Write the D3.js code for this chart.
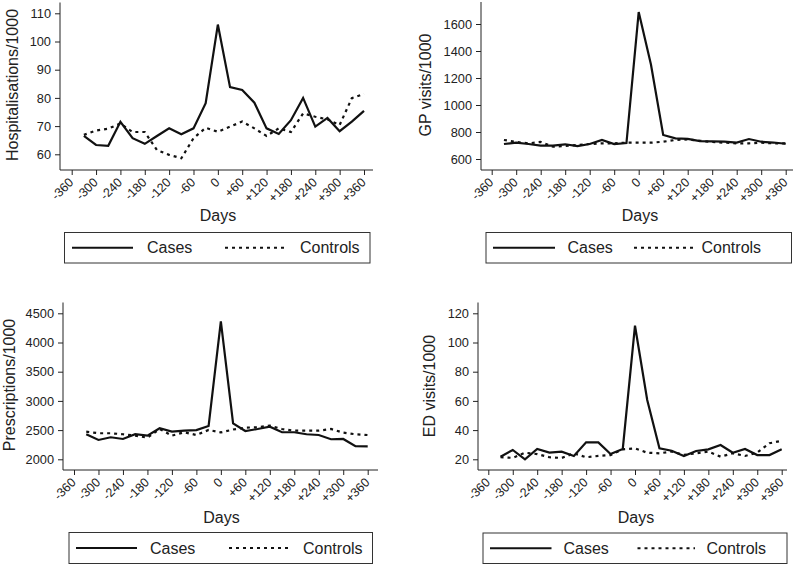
<!DOCTYPE html>
<html><head><meta charset="utf-8">
<script src="https://cdn.jsdelivr.net/npm/d3@7"></script>
<style>
html,body{margin:0;padding:0;background:#fff;}
svg{display:block;font-family:"Liberation Sans",Arial,sans-serif;}
</style></head>
<body><svg id="c" width="798" height="566"></svg>
<script>
// ---- data ----
const days = [-330,-300,-270,-240,-210,-180,-150,-120,-90,-60,-30,0,30,60,90,120,150,180,210,240,270,300,330,360];
const xTickValues = [-360,-300,-240,-180,-120,-60,0,60,120,180,240,300,360];
const xTickLabels = ["-360","-300","-240","-180","-120","-60","0","+60","+120","+180","+240","+300","+360"];
const seriesNames = ["Cases","Controls"];

const hospCases    = [66.5,63.3,63.0,71.5,65.7,63.7,66.5,69.2,67.1,69.2,78.1,106,83.8,82.8,78.3,69.2,67.2,72.1,80.0,69.8,72.9,68.2,71.6,75.4];
const hospControls = [66.9,68.4,69.1,70.9,67.9,67.9,61.5,59.8,58.6,65.7,69.4,68.0,69.8,71.6,69.2,66.5,69.2,67.9,74.5,73.3,72.4,70.4,79.9,81.4];
const hospTicks = [60,70,80,90,100,110];

const gpCases    = [711,721,711,699,699,709,696,711,741,711,718,1688,1300,778,753,749,733,731,728,721,748,728,722,713];
const gpControls = [741,726,716,726,691,696,704,711,716,716,721,721,721,728,741,745,735,726,721,716,716,721,716,716];
const gpTicks = [600,800,1000,1200,1400,1600];

const rxCases    = [2429,2331,2377,2348,2429,2405,2531,2473,2490,2500,2571,4360,2615,2485,2519,2559,2463,2463,2429,2416,2343,2348,2223,2220];
const rxControls = [2473,2446,2446,2429,2405,2370,2519,2405,2463,2416,2502,2460,2510,2542,2548,2576,2519,2490,2490,2490,2519,2456,2429,2416];
const rxTicks = [2000,2500,3000,3500,4000,4500];

const edCases    = [21.8,26.4,20.0,27.1,24.6,25.2,22.3,31.6,31.6,23.6,27.1,111.5,60.6,27.5,25.9,22.3,25.7,26.8,29.8,24.5,27.1,22.9,22.9,26.8];
const edControls = [21.4,21.0,24.5,23.6,21.4,20.9,24.1,21.4,22.3,22.9,26.8,27.5,24.5,24.1,25.3,23.0,24.1,25.3,21.8,24.1,22.3,24.6,31.0,32.7];
const edTicks = [20,40,60,80,100,120];

// ---- layout ----
const panels = [
  {label:"Hospitalisations/1000", cases:hospCases, controls:hospControls, ticks:hospTicks,
   axX:60, axTop:2.5, axBot:170, axRight:373, t0:71.7, t1:364, v0:60, py0:154.3, v1:110, py1:13.3,
   ylabX:12.5, ylabY:85, daysX:218, daysY:215,
   leg:{x0:64.5,x1:370,y0:232.5,y1:263,l0:72,l1:133,t1x:147,d0:225,d1:287,t2x:300}},
  {label:"GP visits/1000", cases:gpCases, controls:gpControls, ticks:gpTicks,
   axX:481, axTop:2, axBot:170, axRight:793, t0:491.7, t1:785.7, v0:600, py0:159, v1:1600, py1:24,
   ylabX:425, ylabY:85, daysX:640, daysY:215,
   leg:{x0:486,x1:791.5,y0:232.5,y1:263,l0:493,l1:555,t1x:567.5,d0:634,d1:696,t2x:701.5}},
  {label:"Prescriptions/1000", cases:rxCases, controls:rxControls, ticks:rxTicks,
   axX:63, axTop:302.5, axBot:470, axRight:378, t0:74, t1:367.7, v0:2000, py0:459.3, v1:4500, py1:313.3,
   ylabX:9.5, ylabY:385, daysX:221.5, daysY:517,
   leg:{x0:69,x1:372.5,y0:532.5,y1:563.5,l0:76,l1:137,t1x:150,d0:229,d1:290,t2x:303}},
  {label:"ED visits/1000", cases:edCases, controls:edControls, ticks:edTicks,
   axX:478, axTop:302.5, axBot:470, axRight:787, t0:488.3, t1:781.7, v0:20, py0:459.3, v1:120, py1:313.3,
   ylabX:429, ylabY:386, daysX:636, daysY:517,
   leg:{x0:483,x1:787,y0:533,y1:563.5,l0:490,l1:551.5,t1x:563.5,d0:637.5,d1:695,t2x:706.5}}
];

const svg = d3.select("#c");
const ink = "#111";
const tickCol = "#222";
const fmt = d3.format("d");

panels.forEach(p => {
  const g = svg.append("g");
  const x = d3.scaleLinear().domain([-360,360]).range([p.t0,p.t1]);
  const y = d3.scaleLinear().domain([p.v0,p.v1]).range([p.py0,p.py1]);

  // axes
  const yAxis = d3.axisLeft(y).tickValues(p.ticks).tickFormat(fmt).tickSize(5).tickPadding(4).tickSizeOuter(0);
  const ya = g.append("g").attr("transform",`translate(${p.axX},0)`).call(yAxis);
  ya.select(".domain").remove();
  ya.selectAll(".tick line").attr("stroke",tickCol);
  ya.selectAll(".tick text").attr("font-size",12.8).attr("fill",tickCol)
    .attr("font-family","'Liberation Sans',Arial,sans-serif");
  g.append("line").attr("x1",p.axX).attr("x2",p.axX).attr("y1",p.axTop).attr("y2",p.axBot)
    .attr("stroke",tickCol).attr("stroke-width",1);

  const xAxis = d3.axisBottom(x).tickValues(xTickValues).tickSize(5)
    .tickFormat((d,i)=>xTickLabels[i]).tickSizeOuter(0);
  const xa = g.append("g").attr("transform",`translate(0,${p.axBot})`).call(xAxis);
  xa.select(".domain").remove();
  xa.selectAll(".tick line").attr("stroke",tickCol);
  xa.selectAll(".tick text").attr("font-size",12.5).attr("fill",tickCol)
    .attr("font-family","'Liberation Sans',Arial,sans-serif")
    .attr("text-anchor","end").attr("x",0).attr("y",0).attr("dy","0.35em")
    .attr("transform","translate(-1,10) rotate(-45)");
  g.append("line").attr("x1",p.axX).attr("x2",p.axRight).attr("y1",p.axBot).attr("y2",p.axBot)
    .attr("stroke",tickCol).attr("stroke-width",1);

  // lines
  const line = d3.line().x((d,i)=>x(days[i])).y(d=>y(d));
  g.append("path").datum(p.controls).attr("d",line).attr("fill","none")
    .attr("stroke",ink).attr("stroke-width",2.2).attr("stroke-dasharray","3,4");
  g.append("path").datum(p.cases).attr("d",line).attr("fill","none")
    .attr("stroke",ink).attr("stroke-width",2.2).attr("stroke-linejoin","miter");

  // titles
  g.append("text").attr("transform",`translate(${p.ylabX},${p.ylabY}) rotate(-90)`)
    .attr("text-anchor","middle").attr("dy","0.35em").attr("font-size",16).attr("fill",tickCol)
    .text(p.label);
  g.append("text").attr("x",p.daysX).attr("y",p.daysY).attr("text-anchor","middle")
    .attr("dy","0.35em").attr("font-size",16).attr("fill",tickCol).text("Days");

  // legend
  const L = p.leg, cy = (L.y0+L.y1)/2;
  g.append("rect").attr("x",L.x0).attr("y",L.y0).attr("width",L.x1-L.x0).attr("height",L.y1-L.y0)
    .attr("fill","#fff").attr("stroke","#333").attr("stroke-width",1);
  g.append("line").attr("x1",L.l0).attr("x2",L.l1).attr("y1",cy).attr("y2",cy)
    .attr("stroke",ink).attr("stroke-width",2.2);
  g.append("text").attr("x",L.t1x).attr("y",cy).attr("dy","0.35em").attr("font-size",16)
    .attr("fill",tickCol).text(seriesNames[0]);
  g.append("line").attr("x1",L.d0).attr("x2",L.d1).attr("y1",cy).attr("y2",cy)
    .attr("stroke",ink).attr("stroke-width",2.2).attr("stroke-dasharray","3,4");
  g.append("text").attr("x",L.t2x).attr("y",cy).attr("dy","0.35em").attr("font-size",16)
    .attr("fill",tickCol).text(seriesNames[1]);
});
</script></body></html>
